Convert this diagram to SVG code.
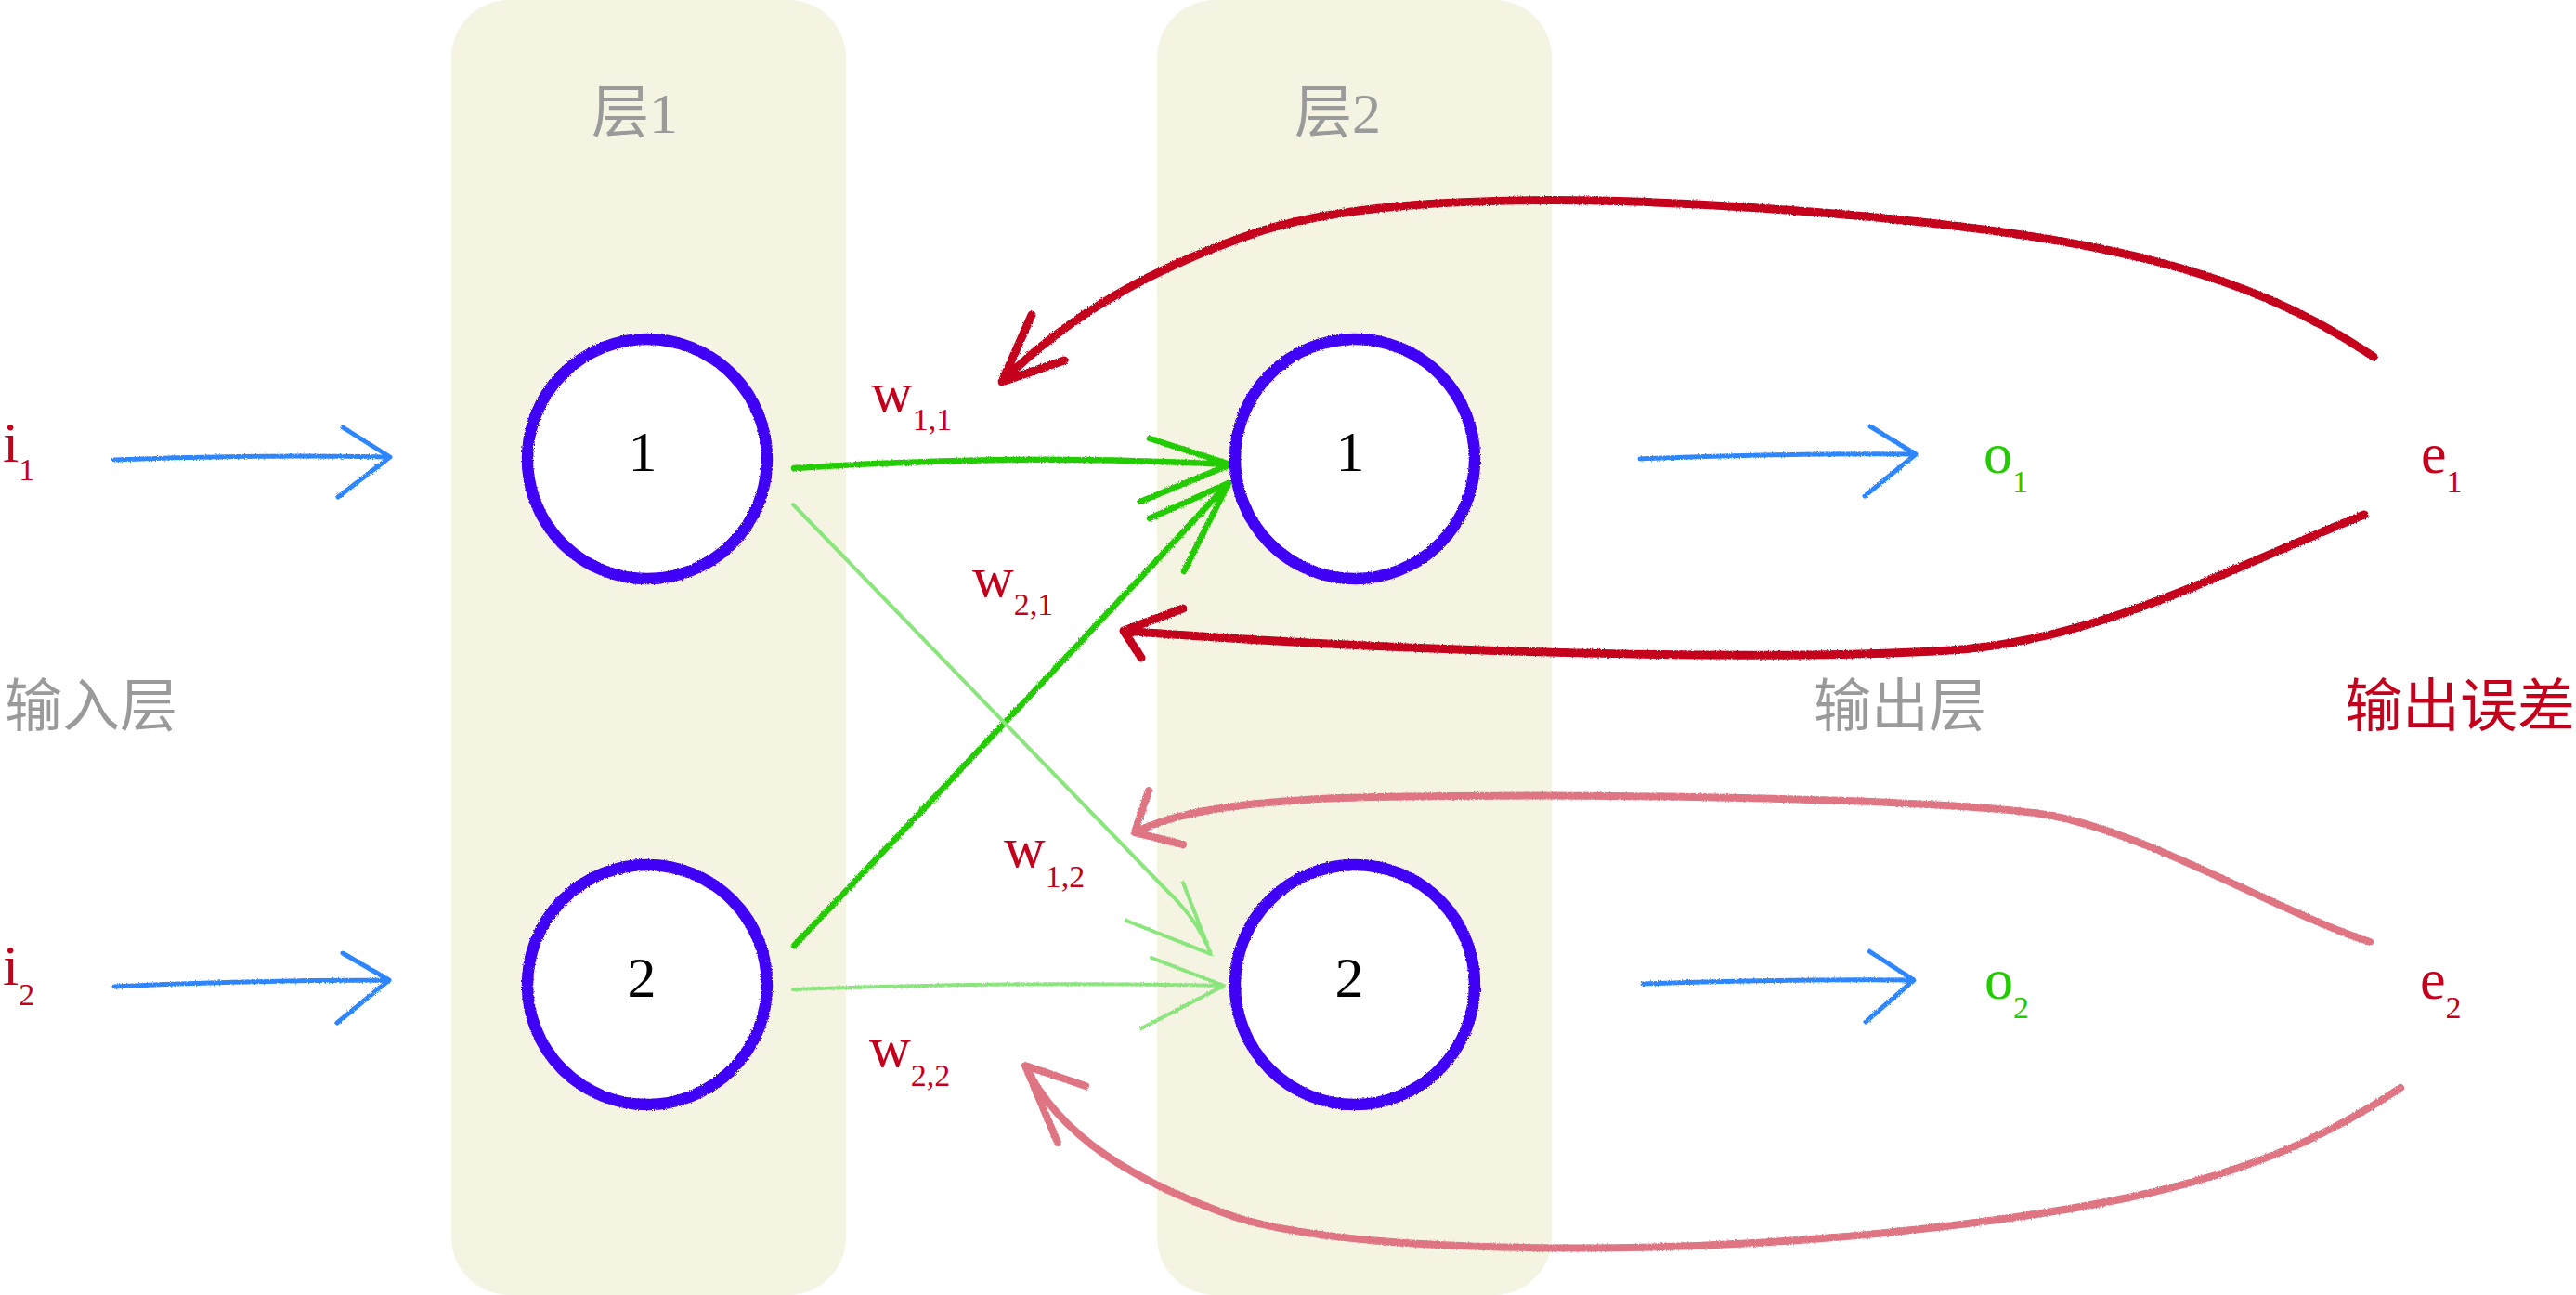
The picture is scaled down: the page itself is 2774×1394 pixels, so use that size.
<svg xmlns="http://www.w3.org/2000/svg" width="2774" height="1394" viewBox="0 0 2774 1394">
<style>
.panel{fill:#f5f3e2}
.node circle{fill:#fff;stroke:#4000f5;stroke-width:12.5}
.num{font-family:"Liberation Serif",serif;font-size:62px;fill:#000;text-anchor:middle}
.lbl{font-family:"Liberation Serif","Noto Sans CJK SC",serif;font-size:62px}
.sub{font-size:34px}
.gray{fill:#9a9a9a}
.red{fill:#c4001c}
.green{fill:#22cc00}
.blue{stroke:#2e86ff;stroke-width:5;fill:none;stroke-linecap:round;stroke-linejoin:round}
.g1{stroke:#22cc00;stroke-width:6.5;fill:none;stroke-linecap:round;stroke-linejoin:round}
.g2{stroke:#8be57d;stroke-width:4;fill:none;stroke-linecap:round;stroke-linejoin:round}
.r1{stroke:#c4001c;stroke-width:9;fill:none;stroke-linecap:round;stroke-linejoin:round}
.r2{stroke:#df7482;stroke-width:8;fill:none;stroke-linecap:round;stroke-linejoin:round}
</style>
<defs>
<filter id="rough" filterUnits="userSpaceOnUse" x="0" y="0" width="2774" height="1394">
<feTurbulence type="fractalNoise" baseFrequency="0.7" numOctaves="2" seed="4"/>
<feDisplacementMap in="SourceGraphic" scale="3"/>
</filter>
</defs>
<rect width="2774" height="1394" fill="#fff"/>
<g id="layer1">
<rect class="panel" x="486" y="0" width="425" height="1394" rx="62"/>
<text class="lbl gray" x="637" y="143">层1</text>
</g>
<g id="layer2">
<rect class="panel" x="1246" y="0" width="425" height="1394" rx="62"/>
<text class="lbl gray" x="1394" y="143">层2</text>
</g>
<g id="connectors" filter="url(#rough)">
<path class="blue" d="M123,495 Q270,489 420,492 M369,460 L420,492 L364,535"/>
<path class="blue" d="M123,1062 Q270,1055 419,1055 M369,1026 L419,1055 L363,1101"/>
<path class="blue" d="M1766,494 Q1910,488 2063,489 M2014,459 L2063,489 L2008,534"/>
<path class="blue" d="M1769,1059 Q1910,1054 2061,1055 M2013,1024 L2061,1055 L2009,1100"/>
<path class="g1" d="M855,504 Q1090,488 1325,500 M1238,472 L1325,500 L1228,540"/>
<path class="g1" d="M855,1018 Q1100,760 1323,520 M1238,558 L1323,520 L1275,615"/>
<path class="g2" d="M854,543 L1256,958 Q1290,990 1304,1027 M1274,950 L1304,1027 L1213,991"/>
<path class="g2" d="M854,1065 Q1090,1056 1318,1061 M1240,1031 L1318,1061 L1229,1107"/>
<path class="r1" d="M2556,384 C2420,292 2260,252 1950,228 C1750,212 1500,205 1360,248 C1240,288 1150,340 1079,411 M1111,339 L1079,411 L1146,388"/>
<path class="r1" d="M2546,554 C2400,612 2260,690 2100,700 C1900,712 1500,702 1210,679 M1274,655 L1210,679 L1229,708"/>
<path class="r2" d="M2552,1014 C2450,980 2320,900 2210,878 C2100,858 1620,852 1420,860 C1310,866 1260,878 1222,896 M1237,851 L1222,896 L1274,909"/>
<path class="r2" d="M2585,1171 C2450,1262 2300,1302 2000,1330 C1750,1352 1450,1348 1330,1310 C1220,1272 1140,1222 1104,1147 M1169,1169 L1104,1147 L1139,1230"/>
</g>
<g id="n11" class="node"><circle cx="697" cy="494" r="129" filter="url(#rough)"/><text class="num" x="692" y="507">1</text></g>
<g id="n12" class="node"><circle cx="697" cy="1060" r="129" filter="url(#rough)"/><text class="num" x="691" y="1073">2</text></g>
<g id="n21" class="node"><circle cx="1459" cy="494" r="129" filter="url(#rough)"/><text class="num" x="1454" y="507">1</text></g>
<g id="n22" class="node"><circle cx="1459" cy="1060" r="129" filter="url(#rough)"/><text class="num" x="1453" y="1073">2</text></g>
<g id="inputs">
<text class="lbl red" x="3" y="497">i<tspan class="sub" dy="20">1</tspan></text>
<text class="lbl red" x="3" y="1060">i<tspan class="sub" dy="22">2</tspan></text>
<text class="lbl gray" x="5" y="782">输入层</text>
</g>
<g id="outputs">
<text class="lbl green" x="2136" y="509">o<tspan class="sub" dy="21">1</tspan></text>
<text class="lbl green" x="2137" y="1075">o<tspan class="sub" dy="21">2</tspan></text>
<text class="lbl gray" x="1953" y="782">输出层</text>
</g>
<g id="errors">
<text class="lbl red" x="2607" y="509">e<tspan class="sub" dy="21">1</tspan></text>
<text class="lbl red" x="2606" y="1075">e<tspan class="sub" dy="21">2</tspan></text>
<text class="lbl red" x="2525" y="782">输出误差</text>
</g>
<g id="weights">
<text class="lbl red" x="938" y="443">w<tspan class="sub" dy="20">1,1</tspan></text>
<text class="lbl red" x="1047" y="642">w<tspan class="sub" dy="20">2,1</tspan></text>
<text class="lbl red" x="1081" y="933">w<tspan class="sub" dy="22">1,2</tspan></text>
<text class="lbl red" x="936" y="1148">w<tspan class="sub" dy="21">2,2</tspan></text>
</g>
</svg>
